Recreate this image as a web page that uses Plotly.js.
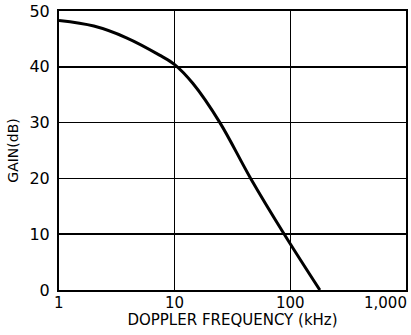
<!DOCTYPE html>
<html>
<head>
<meta charset="utf-8">
<script src="https://cdn.plot.ly/plotly-3.0.1.min.js"></script>
<style>html,body{margin:0;padding:0;background:#fff;}#chart{width:411px;height:335px;}</style>
</head>
<body>
<div id="chart"></div>
<script>
// Data
const freqKHz = [1, 2, 3.83, 7.4, 10, 14.4, 24.6, 45.4, 88.6, 180];
const gainDB  = [48.3, 47.3, 45.2, 42.1, 40.4, 37.0, 30, 20, 10, 0];
const xTickVals = [1, 10, 100, 1000];
const xTickText = ['1', '10', '100', '1,000'];
const yTickVals = [0, 10, 20, 30, 40, 50];
const yTickText = ['0', '10', '20', '30', '40', '50'];

const font = 'DejaVu Sans, sans-serif';

const annotations = xTickVals.map((v, i) => ({
  x: Math.log10(v), y: 0, xref: 'x', yref: 'paper',
  text: xTickText[i], showarrow: false,
  xanchor: i === xTickVals.length - 1 ? 'right' : 'center',
  yanchor: 'top', yshift: -2, xshift: i === xTickVals.length - 1 ? 3 : 0,
  font: {family: font, size: 15, color: '#000'}
}));

Plotly.newPlot('chart', [{
  x: freqKHz, y: gainDB, type: 'scatter', mode: 'lines',
  line: {color: '#000', width: 3, shape: 'spline', smoothing: 1},
  hoverinfo: 'skip'
}], {
  width: 411, height: 335,
  margin: {l: 59, r: 5, t: 11, b: 45},
  paper_bgcolor: '#fff', plot_bgcolor: '#fff',
  showlegend: false,
  font: {family: font, color: '#000'},
  xaxis: {
    type: 'log', range: [0, 3],
    tickvals: xTickVals, ticktext: xTickText, showticklabels: false,
    showgrid: true, gridcolor: '#000', gridwidth: 1.5,
    showline: true, mirror: true, linecolor: '#000', linewidth: 2,
    zeroline: false, ticks: '',
    title: {text: 'DOPPLER FREQUENCY (kHz)', font: {family: font, size: 15, color: '#000'}, standoff: 23}
  },
  yaxis: {
    range: [0, 50],
    tickvals: yTickVals, ticktext: yTickText,
    tickfont: {family: font, size: 16, color: '#000'},
    showgrid: true, gridcolor: '#000', gridwidth: 1.5,
    showline: true, mirror: true, linecolor: '#000', linewidth: 2,
    zeroline: false, ticks: '', ticklabelstandoff: 4,
    title: {text: 'GAIN(dB)', font: {family: font, size: 14, color: '#000'}, standoff: 8}
  },
  annotations: annotations
}, {staticPlot: true, displayModeBar: false});
</script>
</body>
</html>
